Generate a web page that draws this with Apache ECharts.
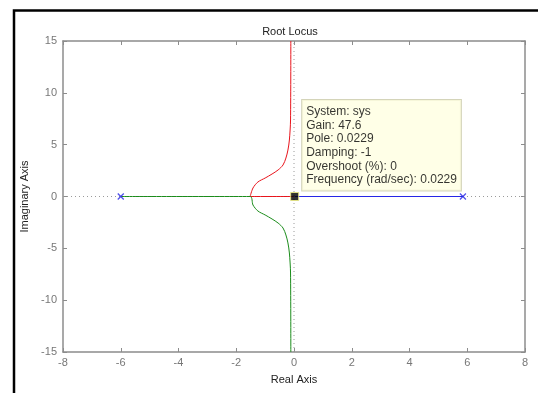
<!DOCTYPE html>
<html>
<head>
<meta charset="utf-8">
<script src="https://cdn.jsdelivr.net/npm/echarts@6/dist/echarts.min.js"></script>
<style>
  html, body { margin: 0; padding: 0; background: #fff; }
  #chart { width: 538px; height: 393px; }
</style>
</head>
<body>
<div id="chart"></div>
<script>
// branch (real, imag)
const redBranch = [
  [0, 0], [-1.52, 0], [-1.42, 0.82], [-1.25, 1.4], [-1.0, 1.78], [-0.76, 2.17],
  [-0.55, 2.56], [-0.38, 3.04], [-0.28, 3.71], [-0.21, 4.48], [-0.16, 5.45],
  [-0.12, 7.38], [-0.11, 15]
]
const greenBranch = [
  [-6, 0], [-1.52, 0], [-1.42, -0.82], [-1.25, -1.4], [-1.0, -1.78], [-0.76, -2.17],
  [-0.55, -2.56], [-0.38, -3.04], [-0.28, -3.71], [-0.21, -4.48], [-0.16, -5.45],
  [-0.12, -7.38], [-0.11, -15]
]
const blueBranch = [[0.0229, 0], [5.85, 0]]
const poles = [[-6, 0], [5.85, 0]]
const dataTip = [0.0229, 0]
const tipLines = [
  'System: sys',
  'Gain: 47.6',
  'Pole: 0.0229',
  'Damping: -1',
  'Overshoot (%): 0',
  'Frequency (rad/sec): 0.0229'
]
// dotted reference lines through the origin
const realAxisLine = [[-8, 0], [8, 0]]
const imagAxisLine = [[0, -15], [0, 15]]

const font = 'Liberation Sans, Arial, sans-serif'
const axisGray = '#8c8c8c'
const labelGray = '#777'

const chart = echarts.init(document.getElementById('chart'))

const dotted = { color: '#9a9a9a', type: [1, 3], width: 1 }

const options = {
  animation: false,
  title: {
    text: 'Root Locus',
    left: 285,
    top: 21,
    textAlign: 'center',
    textStyle: { fontFamily: font, fontSize: 11, fontWeight: 'normal', color: '#222' }
  },
  grid: { left: 63, right: 13, top: 41, bottom: 41, show: false },
  graphic: [
    {
      type: 'rect',
      shape: { x: 14, y: 10.5, width: 700, height: 600 },
      style: { fill: 'none', stroke: '#000', lineWidth: 2.5 },
      z: 100
    }
  ],
  xAxis: [
    {
      type: 'value', min: -8, max: 8, interval: 2,
      name: 'Real Axis', nameLocation: 'middle', nameGap: 22,
      nameTextStyle: { fontFamily: font, fontSize: 11, color: '#222' },
      axisLine: { onZero: false, lineStyle: { color: axisGray, width: 1.5 } },
      axisTick: { inside: true, length: 4, lineStyle: { color: axisGray } },
      axisLabel: { fontFamily: font, fontSize: 11, color: labelGray, margin: 5 },
      splitLine: { show: false }
    },
    {
      type: 'value', min: -8, max: 8, interval: 2, position: 'top',
      axisLine: { onZero: false, lineStyle: { color: axisGray, width: 1.5 } },
      axisTick: { inside: true, length: 4, lineStyle: { color: axisGray } },
      axisLabel: { show: false },
      splitLine: { show: false }
    }
  ],
  yAxis: [
    {
      type: 'value', min: -15, max: 15, interval: 5,
      name: 'Imaginary Axis', nameLocation: 'middle', nameGap: 31,
      nameTextStyle: { fontFamily: font, fontSize: 11, color: '#222' },
      axisLine: { onZero: false, lineStyle: { color: axisGray, width: 1.5 } },
      axisTick: { inside: true, length: 4, lineStyle: { color: axisGray } },
      axisLabel: { fontFamily: font, fontSize: 11, color: labelGray, margin: 6 },
      splitLine: { show: false }
    },
    {
      type: 'value', min: -15, max: 15, interval: 5, position: 'right',
      axisLine: { onZero: false, lineStyle: { color: axisGray, width: 1.5 } },
      axisTick: { inside: true, length: 4, lineStyle: { color: axisGray } },
      axisLabel: { show: false },
      splitLine: { show: false }
    }
  ],
  series: [
    {
      type: 'line', data: realAxisLine, showSymbol: false, silent: true,
      lineStyle: dotted, z: 1
    },
    {
      type: 'line', data: imagAxisLine, showSymbol: false, silent: true,
      lineStyle: dotted, z: 1
    },
    {
      name: 'red', type: 'line', data: redBranch, showSymbol: false, smooth: 0.3,
      lineStyle: { color: '#e8141c', width: 1 }, z: 3
    },
    {
      name: 'green', type: 'line', data: greenBranch, showSymbol: false, smooth: 0.3,
      lineStyle: { color: '#1b8c1b', width: 1 }, z: 3
    },
    {
      name: 'blue', type: 'line', data: blueBranch, showSymbol: false,
      lineStyle: { color: '#2626e6', width: 1 }, z: 3
    },
    {
      name: 'poles', type: 'scatter', data: poles,
      symbol: 'path://M0,0L10,10M10,0L0,10', symbolSize: 6,
      itemStyle: { color: 'none', borderColor: '#2626e6', borderWidth: 1.3 }, z: 4
    },
    {
      name: 'tip', type: 'scatter', data: [dataTip],
      symbol: 'rect', symbolSize: 8,
      itemStyle: { color: '#000', borderColor: '#f0f080', borderWidth: 1 }, z: 5,
      label: {
        show: true,
        position: [12, -92],
        formatter: tipLines.join('\n'),
        fontFamily: font, fontSize: 12, lineHeight: 13.6, color: '#000',
        backgroundColor: '#ffffe1', borderColor: '#c9c9a8', borderWidth: 1,
        padding: [5, 4, 4, 4]
      }
    }
  ]
}

chart.setOption(options)
</script>
</body>
</html>
